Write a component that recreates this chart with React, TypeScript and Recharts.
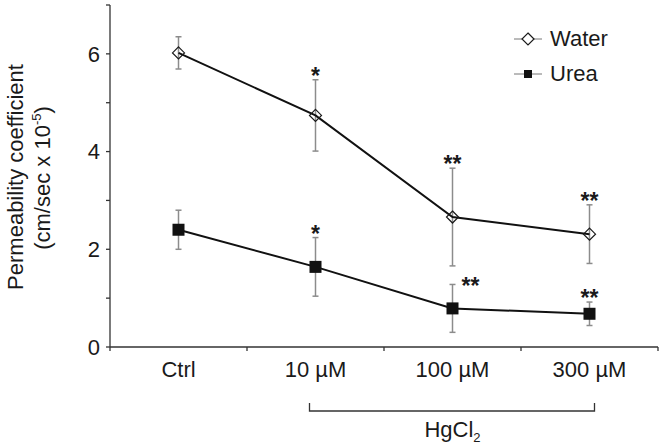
import { ComposedChart, Line, XAxis, YAxis, ErrorBar, LabelList } from 'recharts';

const categories = ['Ctrl', '10 \u00b5M', '100 \u00b5M', '300 \u00b5M'];
const water = [6.02, 4.74, 2.66, 2.31];
const waterErr = [0.33, 0.73, 1.0, 0.6];
const waterSig = ['', '*', '**', '**'];
const urea = [2.4, 1.64, 0.79, 0.68];
const ureaErr = [0.4, 0.6, 0.49, 0.24];
const ureaSig = ['', '*', '**', '**'];
const seriesNames = ['Water', 'Urea'];
const yTicks = [0, 1, 2, 3, 4, 5, 6, 7];

const FONT = '"Liberation Sans", Arial, sans-serif';
const INK = '#1a1a1a';
const AXIS = '#333';
const ERR = '#8c8c8c';

const data = categories.map((cat, i) => ({
  cat,
  water: water[i],
  waterErr: waterErr[i],
  waterTop: water[i] + waterErr[i],
  urea: urea[i],
  ureaErr: ureaErr[i],
  ureaTop: urea[i] + ureaErr[i],
}));

const Diamond = ({ cx, cy, r = 6 }: { cx: number; cy: number; r?: number }) => (
  <path
    d={`M${cx},${cy - r} L${cx + r},${cy} L${cx},${cy + r} L${cx - r},${cy} Z`}
    fill="none"
    stroke={INK}
    strokeWidth={1.2}
  />
);

const Square = ({ cx, cy, s = 6 }: { cx: number; cy: number; s?: number }) => (
  <rect x={cx - s} y={cy - s} width={s * 2} height={s * 2} fill="#111" />
);

const XTick = (props: any) => {
  const { x, y, payload, index, visibleTicksCount } = props;
  const half = payload?.offset ?? 0;
  const last = index === (visibleTicksCount ?? categories.length) - 1;
  const bY = y + 64;
  return (
    <g>
      <line x1={x - half} x2={x - half} y1={y} y2={y + 4} stroke={AXIS} strokeWidth={1.3} />
      {last && <line x1={x + half} x2={x + half} y1={y} y2={y + 4} stroke={AXIS} strokeWidth={1.3} />}
      <text x={x} y={y + 30} textAnchor="middle" fontSize={22} fontFamily={FONT} fill={INK}>
        {payload.value}
      </text>
      {index === 1 && (
        <path d={`M${x - 6},${bY - 8} L${x - 6},${bY} L${x + half},${bY}`} fill="none" stroke={AXIS} strokeWidth={1.3} />
      )}
      {index === 2 && (
        <>
          <line x1={x - half} x2={x + half} y1={bY} y2={bY} stroke={AXIS} strokeWidth={1.3} />
          <text x={x} y={bY + 26} textAnchor="middle" fontSize={22} fontFamily={FONT} fill={INK}>
            HgCl<tspan fontSize={13} dy={5}>2</tspan>
          </text>
        </>
      )}
      {last && index > 2 && (
        <path d={`M${x - half},${bY} L${x + 5},${bY} L${x + 5},${bY - 8}`} fill="none" stroke={AXIS} strokeWidth={1.3} />
      )}
    </g>
  );
};

const YLabel = () => (
  <g fontFamily={FONT} fill={INK} fontSize={22}>
    <text transform="translate(23,177) rotate(-90)" textAnchor="middle">
      Permeability coefficient
    </text>
    <text transform="translate(50,178) rotate(-90)" textAnchor="middle">
      (cm/sec x 10<tspan fontSize={13} dy={-9}>-5</tspan>
      <tspan dy={9}>)</tspan>
    </text>
  </g>
);

const makeStar = (sig: string[], besideIdx: number) => (props: any) => {
  const { x, y, index } = props;
  const s = sig[index];
  if (!s) return null;
  const beside = index === besideIdx;
  return (
    <text
      x={beside ? x + 18 : x}
      y={beside ? y + 10 : y + 4}
      textAnchor="middle"
      fontSize={23}
      fontWeight={700}
      fontFamily={FONT}
      fill={INK}
    >
      {s}
    </text>
  );
};

const LegendBox = () => (
  <div
    style={{
      position: 'absolute',
      left: 513,
      top: 21,
      fontFamily: FONT,
      fontSize: 22,
      color: INK,
      lineHeight: '35px',
    }}
  >
    {seriesNames.map((name) => (
      <div key={name} style={{ display: 'flex', alignItems: 'center' }}>
        <svg width={30} height={20} style={{ marginRight: 7 }}>
          <line x1={1} x2={29} y1={10} y2={10} stroke="#777" strokeWidth={1} />
          {name === 'Water' ? (
            <path d="M15,4 L21,10 L15,16 L9,10 Z" fill="#fff" stroke={INK} strokeWidth={1.2} />
          ) : (
            <rect x={11} y={6} width={8} height={8} fill="#111" />
          )}
        </svg>
        <span>{name}</span>
      </div>
    ))}
  </div>
);

export default function App() {
  return (
    <div style={{ position: 'absolute', left: 0, top: 0, width: 664, height: 447, background: '#fff' }}>
      <ComposedChart width={664} height={447} data={data} margin={{ top: 5, right: 6, bottom: 0, left: 0 }}>
        <XAxis
          dataKey="cat"
          type="category"
          scale="band"
          height={100}
          axisLine={{ stroke: AXIS, strokeWidth: 1.3 }}
          tickLine={false}
          tickSize={0}
          tickMargin={0}
          interval={0}
          tick={<XTick />}
        />
        <YAxis
          width={110}
          domain={[0, 7]}
          ticks={yTicks}
          interval={0}
          tickFormatter={(v: number) => (v % 2 === 0 ? String(v) : '')}
          axisLine={{ stroke: AXIS, strokeWidth: 1.3 }}
          tickLine={{ stroke: AXIS, strokeWidth: 1.3 }}
          tickSize={4}
          tickMargin={6}
          tick={{ fontSize: 22, fontFamily: FONT, fill: INK }}
        />
        <Line
          dataKey="water"
          name="Water"
          stroke="#111"
          strokeWidth={2}
          isAnimationActive={false}
          dot={(p: any) => <Diamond key={`w${p.index}`} cx={p.cx} cy={p.cy} />}
          activeDot={false}
        >
          <ErrorBar dataKey="waterErr" width={3} stroke={ERR} strokeWidth={1.5} />
        </Line>
        <Line
          dataKey="urea"
          name="Urea"
          stroke="#111"
          strokeWidth={2}
          isAnimationActive={false}
          dot={(p: any) => <Square key={`u${p.index}`} cx={p.cx} cy={p.cy} />}
          activeDot={false}
        >
          <ErrorBar dataKey="ureaErr" width={3} stroke={ERR} strokeWidth={1.5} />
        </Line>
        <Line dataKey="waterTop" stroke="none" dot={false} activeDot={false} legendType="none" isAnimationActive={false}>
          <LabelList dataKey="waterTop" content={makeStar(waterSig, -1)} />
        </Line>
        <Line dataKey="ureaTop" stroke="none" dot={false} activeDot={false} legendType="none" isAnimationActive={false}>
          <LabelList dataKey="ureaTop" content={makeStar(ureaSig, 2)} />
        </Line>
        <YLabel />
      </ComposedChart>
      <LegendBox />
    </div>
  );
}
